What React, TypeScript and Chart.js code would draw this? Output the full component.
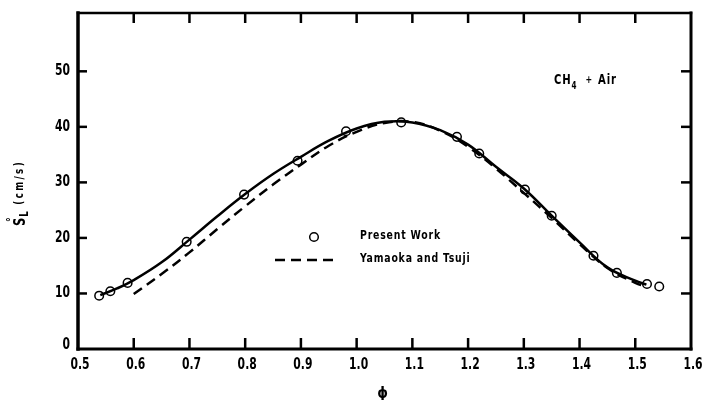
import React, { useEffect, useRef } from "react";
import { Chart, registerables } from "chart.js";

Chart.register(...registerables);

// Present Work (measured points)
const presentPhi = [0.538, 0.558, 0.589, 0.695, 0.798, 0.894, 0.981, 1.08, 1.18, 1.22, 1.302, 1.35, 1.425, 1.467, 1.521, 1.543];
const presentSL = [9.6, 10.4, 11.9, 19.3, 27.8, 33.9, 39.2, 40.8, 38.2, 35.2, 28.7, 24.0, 16.8, 13.7, 11.7, 11.25];

// Solid fitted curve through Present Work
const fitPhi = [0.54, 0.57, 0.6, 0.65, 0.7, 0.75, 0.8, 0.85, 0.9, 0.95, 1.0, 1.05, 1.1, 1.15, 1.2, 1.25, 1.3, 1.35, 1.4, 1.45, 1.5, 1.52];
const fitSL = [9.7, 10.9, 12.4, 15.6, 19.7, 23.9, 27.9, 31.5, 34.6, 37.5, 39.7, 40.9, 40.8, 39.4, 36.8, 32.8, 28.9, 24.0, 19.2, 14.7, 12.3, 11.6];

// Yamaoka and Tsuji (dashed)
const ytPhi = [0.6, 0.65, 0.7, 0.75, 0.8, 0.85, 0.9, 0.95, 1.0, 1.05, 1.1, 1.15, 1.2, 1.25, 1.3, 1.35, 1.4, 1.45, 1.5, 1.52];
const ytSL = [9.9, 13.5, 17.4, 21.6, 25.7, 29.6, 33.2, 36.6, 39.1, 40.7, 40.9, 39.3, 36.4, 32.5, 28.1, 23.6, 18.9, 14.6, 11.9, 11.2];

// Axis ticks
const xTickValues = [0.5, 0.6, 0.7, 0.8, 0.9, 1.0, 1.1, 1.2, 1.3, 1.4, 1.5, 1.6];
const yTickValues = [0, 10, 20, 30, 40, 50];
const xInnerTicks = [0.6, 0.7, 0.8, 0.9, 1.0, 1.1, 1.2, 1.3, 1.4, 1.5];
const yInnerTicks = [10, 20, 30, 40, 50];

const legendLabels = ["Present Work", "Yamaoka and Tsuji"];
const FONT = "'DejaVu Sans Condensed', 'Liberation Sans', sans-serif";
const SQUEEZE = 0.8;

const toPts = (xs: number[], ys: number[]) => xs.map((x, i) => ({ x, y: ys[i] }));

// draw horizontally condensed text; returns advance width
function narrowText(ctx: any, text: string, x: number, y: number, size: number, align: "left" | "center" | "right", spacing = 0) {
  ctx.save();
  ctx.font = `bold ${size}px ${FONT}`;
  ctx.letterSpacing = `${spacing}px`;
  const w = ctx.measureText(text).width * SQUEEZE;
  let sx = x;
  if (align === "center") sx = x - w / 2;
  if (align === "right") sx = x - w;
  ctx.translate(sx, y);
  ctx.scale(SQUEEZE, 1);
  ctx.textAlign = "left";
  ctx.fillText(text, 0, 0);
  ctx.restore();
  return w;
}

const decoPlugin = {
  id: "deco",
  afterDraw(chart: any) {
    const { ctx, chartArea: a, scales } = chart;
    const xs = scales.x;
    const ys = scales.y;
    ctx.save();
    ctx.strokeStyle = "#000";
    ctx.fillStyle = "#000";
    const line = (x1: number, y1: number, x2: number, y2: number) => {
      ctx.beginPath();
      ctx.moveTo(x1, y1);
      ctx.lineTo(x2, y2);
      ctx.stroke();
    };
    // frame
    ctx.lineCap = "square";
    ctx.lineWidth = 3.5;
    line(a.left, a.top, a.left, a.bottom);
    ctx.lineWidth = 3;
    line(a.left, a.bottom, a.right, a.bottom);
    line(a.right, a.top, a.right, a.bottom);
    ctx.lineWidth = 2.5;
    line(a.left, a.top, a.right, a.top);
    // inward ticks
    ctx.lineCap = "butt";
    ctx.lineWidth = 2.5;
    xInnerTicks.forEach((v) => {
      const px = xs.getPixelForValue(v);
      line(px, a.bottom, px, a.bottom - 11);
      line(px, a.top, px, a.top + 10);
    });
    yInnerTicks.forEach((v) => {
      const py = ys.getPixelForValue(v);
      line(a.left, py, a.left + 9, py);
      line(a.right, py, a.right - 10, py);
    });

    // tick labels
    ctx.textBaseline = "middle";
    xTickValues.forEach((v) => {
      narrowText(ctx, v.toFixed(1), xs.getPixelForValue(v) + 2, a.bottom + 16, 15, "center");
    });
    yTickValues.forEach((v) => {
      narrowText(ctx, String(v), a.left - 8, ys.getPixelForValue(v) - (v === 0 ? 4 : 0), 15, "right");
    });

    // legend
    const lx = a.left + 236;
    ctx.lineWidth = 1.5;
    ctx.fillStyle = "#fff";
    ctx.beginPath();
    ctx.arc(lx, 237, 4.3, 0, Math.PI * 2);
    ctx.fill();
    ctx.stroke();
    ctx.fillStyle = "#000";
    ctx.lineWidth = 2.5;
    ctx.setLineDash([10, 6]);
    line(a.left + 197, 260, a.left + 260, 260);
    ctx.setLineDash([]);
    ctx.textBaseline = "middle";
    narrowText(ctx, legendLabels[0], a.left + 282, 236, 13, "left", 1);
    narrowText(ctx, legendLabels[1], a.left + 282, 259, 13, "left", 1);

    // CH4 + Air
    ctx.textBaseline = "alphabetic";
    let tx = 554;
    tx += narrowText(ctx, "CH", tx, 84, 14, "left", 1);
    tx += narrowText(ctx, "4", tx, 89, 10, "left") + 9;
    tx += narrowText(ctx, "+", tx, 83, 11, "left") + 6;
    narrowText(ctx, "Air", tx, 84, 14, "left", 1);

    // x title
    ctx.font = `bold 15px ${FONT}`;
    ctx.textAlign = "center";
    ctx.textBaseline = "alphabetic";
    ctx.fillText("ϕ", (a.left + a.right) / 2 - 2, 398);

    // y title (rotated)
    ctx.save();
    ctx.translate(25, 226);
    ctx.rotate(-Math.PI / 2);
    ctx.textBaseline = "alphabetic";
    const sw = narrowText(ctx, "S", 0, 0, 16, "left");
    narrowText(ctx, "°", 4, -10, 13, "left");
    narrowText(ctx, "L", sw + 1, 3, 12, "left");
    narrowText(ctx, "(cm/s)", sw + 13, -2, 12, "left", 3);
    ctx.restore();

    ctx.restore();
  },
};

export default function App() {
  const ref = useRef<HTMLCanvasElement | null>(null);
  useEffect(() => {
    if (!ref.current) return;
    const chart = new Chart(ref.current, {
      type: "scatter",
      data: {
        datasets: [
          {
            label: legendLabels[1],
            data: toPts(ytPhi, ytSL),
            showLine: true,
            borderColor: "#000",
            borderWidth: 2.5,
            borderDash: [10, 6],
            pointRadius: 0,
            tension: 0.4,
            fill: false,
          },
          {
            label: "fit",
            data: toPts(fitPhi, fitSL),
            showLine: true,
            borderColor: "#000",
            borderWidth: 2.5,
            pointRadius: 0,
            tension: 0.4,
            fill: false,
          },
          {
            label: legendLabels[0],
            data: toPts(presentPhi, presentSL),
            showLine: false,
            pointRadius: 4.3,
            pointBackgroundColor: "#fff",
            pointBorderColor: "#000",
            pointBorderWidth: 1.5,
          },
        ],
      },
      options: {
        animation: false,
        responsive: false,
        maintainAspectRatio: false,
        layout: { padding: { top: 13, right: 14, left: 0, bottom: 0 } },
        plugins: { legend: { display: false }, tooltip: { enabled: false } },
        scales: {
          x: {
            type: "linear",
            min: 0.5,
            max: 1.6,
            grid: { display: false, drawTicks: false },
            border: { display: false },
            afterBuildTicks: (s: any) => {
              s.ticks = xTickValues.map((v) => ({ value: v }));
            },
            afterFit: (s: any) => {
              s.height = 51;
            },
            ticks: { display: false },
          },
          y: {
            type: "linear",
            min: 0,
            max: 60.5,
            grid: { display: false, drawTicks: false },
            border: { display: false },
            afterBuildTicks: (s: any) => {
              s.ticks = yTickValues.map((v) => ({ value: v }));
            },
            afterFit: (s: any) => {
              s.width = 78;
            },
            ticks: { display: false },
          },
        },
      },
      plugins: [decoPlugin],
    } as any);
    return () => chart.destroy();
  }, []);
  return (
    <div style={{ position: "absolute", left: 0, top: 0, width: 705, height: 400, background: "#fff" }}>
      <canvas ref={ref} width={705} height={400} style={{ display: "block" }} />
    </div>
  );
}
